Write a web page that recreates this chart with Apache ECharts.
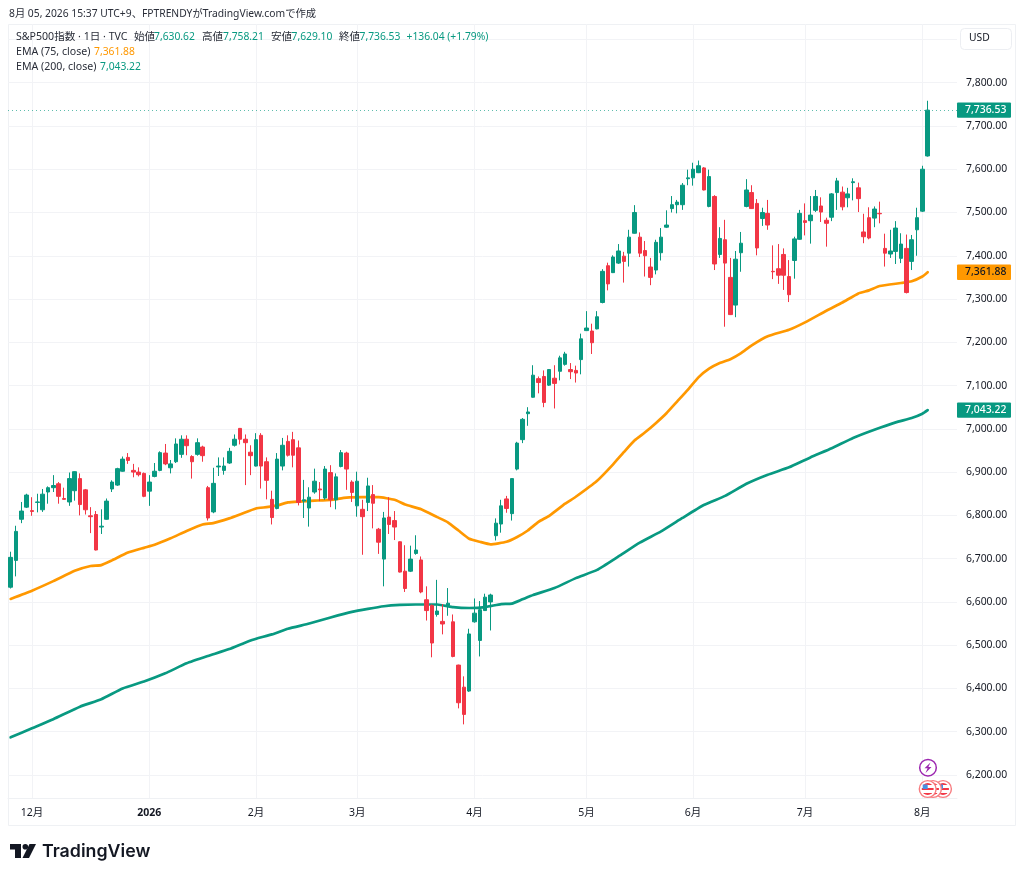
<!DOCTYPE html>
<html lang="ja">
<head>
<meta charset="utf-8">
<title>S&amp;P500指数</title>
<script src="https://cdn.jsdelivr.net/npm/echarts@6/dist/echarts.min.js"></script>
<style>html,body{margin:0;padding:0;background:#fff}#c{width:1024px;height:878px}</style>
</head>
<body>
<div id="c"></div>
<script>
const opens = [6634,6696,6791,6819,6811,6830,6813,6854,6864,6873,6839,6831,6857,6885,6859,6799,6802,6773,6791,6861,6870,6902,6934,6904,6900,6897,6856,6890,6904,6944,6910,6924,6941,6976,6936,6941,6958,6864,6808,6912,6904,6921,6962,7001,6976,6946,6914,6985,6924,6837,6816,6914,6971,6975,6956,6833,6817,6854,6861,6840,6899,6836,6913,6944,6877,6822,6814,6830,6848,6768,6699,6796,6788,6739,6671,6671,6712,6697,6605,6592,6571,6555,6592,6554,6454,6403,6394,6554,6511,6580,6600,6753,6780,6838,6804,6907,6975,7035,7073,7116,7121,7101,7117,7133,7149,7137,7135,7160,7227,7226,7231,7292,7377,7361,7383,7399,7406,7452,7443,7412,7374,7367,7407,7466,7509,7518,7518,7578,7580,7592,7603,7514,7537,7403,7437,7350,7286,7407,7514,7546,7521,7486,7498,7364,7370,7403,7352,7389,7438,7481,7481,7505,7515,7482,7489,7546,7547,7534,7569,7557,7455,7488,7487,7498,7417,7404,7410,7394,7417,7387,7460,7503,7630.62];
const highs = [6716,6776,6831,6850,6842,6850,6861,6867,6893,6877,6864,6899,6902,6897,6861,6819,6810,6814,6839,6881,6910,6936,6944,6919,6911,6899,6893,6921,6948,6965,6928,6978,6985,6985,6939,6978,6961,6868,6910,6934,6934,6956,6987,7002,6987,6962,6990,6990,6934,6857,6944,6979,6985,6993,6973,6882,6865,6908,6877,6914,6916,6897,6951,6947,6881,6901,6836,6887,6870,6771,6808,6842,6810,6740,6731,6730,6754,6705,6636,6594,6651,6595,6632,6571,6455,6428,6538,6608,6602,6619,6619,6793,6836,6845,6885,6970,7025,7050,7147,7121,7135,7138,7147,7169,7178,7152,7146,7220,7272,7243,7272,7369,7384,7401,7427,7409,7460,7517,7454,7434,7395,7437,7464,7505,7538,7529,7568,7599,7615,7620,7605,7599,7540,7466,7483,7395,7411,7455,7577,7563,7531,7511,7529,7424,7427,7417,7390,7444,7506,7521,7538,7552,7535,7488,7545,7580,7560,7557,7579,7569,7497,7512,7514,7525,7451,7460,7480,7452,7449,7448,7511,7608,7758.21];
const lows = [6631,6659,6782,6817,6799,6807,6808,6827,6854,6827,6836,6822,6834,6800,6802,6759,6719,6757,6790,6854,6868,6901,6919,6888,6890,6842,6822,6888,6902,6916,6897,6921,6933,6939,6885,6938,6924,6788,6805,6891,6894,6919,6959,6964,6870,6893,6913,6862,6837,6779,6814,6904,6936,6911,6823,6794,6774,6850,6833,6836,6819,6814,6911,6859,6831,6797,6709,6810,6770,6711,6636,6757,6743,6668,6623,6669,6709,6620,6557,6472,6566,6525,6568,6472,6354,6317,6392,6552,6474,6580,6534,6742,6760,6806,6788,6904,6967,7007,7072,7082,7050,7099,7047,7112,7146,7115,7107,7126,7226,7173,7230,7290,7320,7360,7381,7338,7375,7451,7397,7352,7332,7357,7389,7464,7500,7498,7506,7563,7562,7591,7551,7512,7367,7395,7236,7263,7258,7363,7512,7508,7401,7469,7460,7346,7335,7321,7293,7347,7437,7447,7428,7501,7478,7421,7480,7506,7505,7512,7528,7501,7429,7438,7466,7475,7375,7395,7381,7383,7313,7367,7400,7501,7629.10];
const closes = [6703,6763,6810,6847,6809,6831,6849,6864,6869,6844,6837,6885,6901,6825,6813,6797,6720,6775,6833,6877,6908,6930,6927,6900,6894,6844,6877,6902,6945,6919,6919,6965,6976,6961,6924,6968,6938,6794,6874,6914,6914,6948,6976,6976,6968,6938,6975,6914,6881,6795,6930,6962,6939,6939,6830,6836,6842,6879,6859,6907,6836,6889,6945,6907,6853,6879,6797,6868,6828,6738,6794,6779,6773,6669,6631,6699,6720,6623,6580,6505,6579,6549,6597,6474,6367,6340,6526,6574,6582,6611,6616,6782,6822,6816,6885,6967,7022,7039,7124,7107,7061,7137,7105,7164,7173,7132,7129,7208,7233,7199,7259,7364,7335,7397,7411,7387,7443,7500,7406,7400,7350,7431,7443,7471,7518,7524,7563,7580,7600,7608,7552,7583,7381,7440,7383,7264,7392,7429,7552,7509,7418,7500,7471,7363,7355,7355,7310,7439,7498,7477,7494,7537,7501,7475,7543,7573,7513,7543,7571,7532,7444,7441,7508,7497,7406,7411,7464,7427,7315,7437,7488,7600,7736.53];

const ema75Idx = [0,4,8,12,15,17,19,22,25,27,30,33,36,38,41,43,46,48,50,52,54,57,60,63,66,69,72,74,77,80,82,84,86,88,90,93,95,97,99,101,104,106,110,113,115,117,119,121,123,125,127,129,131,133,135,137,139,142,146,149,153,156,159,161,163,167,169,171,172];
const ema75Val = [6607,6626,6648,6672,6683,6685,6696,6714,6725,6732,6747,6764,6779,6782,6793,6802,6816,6819,6823,6830,6832,6834,6836,6841,6842,6842,6836,6825,6814,6796,6784,6765,6746,6739,6733,6739,6750,6765,6785,6799,6827,6843,6880,6918,6946,6973,6992,7013,7036,7063,7090,7119,7139,7152,7161,7175,7193,7214,7229,7246,7273,7292,7313,7320,7330,7337,7341,7352,7361.88];
const ema200Idx = [0,4,8,13,17,21,25,29,33,37,41,45,49,52,56,60,64,67,70,73,76,80,83,86,89,92,94,96,98,102,106,110,114,118,122,126,130,134,138,142,146,150,154,158,162,166,169,171,172];
const ema200Val = [6287,6308,6329,6358,6375,6400,6416,6435,6458,6475,6491,6511,6525,6538,6550,6564,6577,6584,6590,6593,6594,6594,6588,6586,6588,6595,6596,6606,6616,6632,6655,6674,6705,6737,6763,6794,6824,6845,6873,6894,6911,6934,6955,6979,6998,7015,7025,7035,7043.22];

const monthIdx = [4,26,46,65,87,108,128,149,171];
const monthLabels = ['12月','2026','2月','3月','4月','5月','6月','7月','8月'];
const slotCount = 178;
const priceMin = 6200, priceMax = 7900, priceStep = 100;

const titleText = '8月 05, 2026 15:37 UTC+9、FPTRENDYがTradingView.comで作成';
const symbolText = 'S&P500指数 · 1日 · TVC';
const lastOHLC = {o:'7,630.62',h:'7,758.21',l:'7,629.10',c:'7,736.53',chg:'+136.04 (+1.79%)'};
const LAST = 7736.53, EMA75 = 7361.88, EMA200 = 7043.22;

const UP = '#089981', DOWN = '#F23645', ORANGE = '#FF9800', INK = '#131722', GRID = '#f2f3f6';
const FONT = '"Noto Sans","Noto Sans CJK JP",sans-serif';
const fmt = v => v.toLocaleString('en-US',{minimumFractionDigits:2,maximumFractionDigits:2});

const categories = Array.from({length:slotCount},(_,i)=>{const k=monthIdx.indexOf(i);return k>=0?monthLabels[k]:'';});
const candleData = opens.map((o,i)=>[o,closes[i],lows[i],highs[i]]);
const isMonth = i => monthIdx.indexOf(i)>=0;

function tagLabel(v,bg,fg){
  return {show:true,position:'end',distance:0,formatter:fmt(v),color:fg,backgroundColor:bg,
    fontFamily:FONT,fontSize:10.4,fontWeight:500,padding:[2.5,7,2.5,8],width:39,align:'left',borderRadius:1};
}
const hiddenLine = {color:'rgba(0,0,0,0)',width:0};
function txt(x,y,text,color,extra){
  return {type:'text',left:x,top:y,silent:true,z:50,style:Object.assign({text:text,fill:color,font:'10.3px '+FONT},extra||{})};
}
const legendY = 32;
const CJKFONT = {font:'10.6px '+FONT};
const graphics = [
  {type:'rect',silent:true,z:0,shape:{x:8.5,y:24.5,width:1007,height:801},style:{fill:'none',stroke:'#eff1f4',lineWidth:1}},
  {type:'rect',silent:true,z:40,shape:{x:960.5,y:28.5,width:51,height:21,r:4},style:{fill:'#fff',stroke:'#eceef2',lineWidth:1}},
  txt(969,33,'USD',INK),
  txt(9,9,titleText,'#2a2e39'),
  txt(16,legendY,symbolText,'#2a2e39',CJKFONT),
  txt(134,legendY,'始値','#2a2e39',CJKFONT), txt(154,legendY,lastOHLC.o,UP),
  txt(202,legendY,'高値','#2a2e39',CJKFONT), txt(223,legendY,lastOHLC.h,UP),
  txt(271,legendY,'安値','#2a2e39',CJKFONT), txt(291.5,legendY,lastOHLC.l,UP),
  txt(339,legendY,'終値','#2a2e39',CJKFONT), txt(359.5,legendY,lastOHLC.c,UP),
  txt(406.5,legendY,lastOHLC.chg,UP),
  txt(16,legendY+15,'EMA (75, close)','#2a2e39',CJKFONT), txt(94,legendY+15,fmt(EMA75),ORANGE),
  txt(16,legendY+30,'EMA (200, close)','#2a2e39',CJKFONT), txt(100,legendY+30,fmt(EMA200),UP),
  // event badges near the last month mark
  {type:'circle',silent:true,z:45,shape:{cx:928,cy:767.7,r:8.3},style:{fill:'#fff',stroke:'#9c27b0',lineWidth:1.5}},
  {type:'polygon',silent:true,z:46,shape:{points:[[930.5,762.5],[924.5,768.3],[927.6,768.3],[925.5,773],[931.5,766.9],[928.4,766.9]]},style:{fill:'#9c27b0'}},
  ...[943,933,927.7].map((cx,k)=>({type:'group',silent:true,z:45,children:[
    {type:'circle',z:45+k,shape:{cx:cx,cy:789,r:8.4},style:{fill:'#fff',stroke:'#f77c80',lineWidth:1.4}},
    {type:'circle',z:45+k,shape:{cx:cx,cy:789,r:6},style:{fill:{type:'linear',x:0,y:0,x2:0,y2:1,colorStops:[
      {offset:0,color:'#f23645'},{offset:.2,color:'#f23645'},{offset:.2,color:'#fff'},{offset:.4,color:'#fff'},
      {offset:.4,color:'#f23645'},{offset:.6,color:'#f23645'},{offset:.6,color:'#fff'},{offset:.8,color:'#fff'},
      {offset:.8,color:'#f23645'},{offset:1,color:'#f23645'}]}}},
    {type:'rect',z:45+k,shape:{x:cx-5,y:784.5,width:5,height:4.5},style:{fill:'#4a90e2'}}
  ]})),
  // TradingView wordmark
  {type:'polygon',silent:true,z:50,shape:{points:[[10,844],[21,844],[21,858],[15,858],[15,849.5],[10,849.5]]},style:{fill:INK}},
  {type:'circle',silent:true,z:50,shape:{cx:25.3,cy:846.8,r:2.8},style:{fill:INK}},
  {type:'polygon',silent:true,z:50,shape:{points:[[29.5,844],[36,844],[29,858],[22.5,858]]},style:{fill:INK}},
  {type:'text',silent:true,z:50,left:42,top:843,style:{text:'TradingView',fill:INK,font:'600 17.8px Inter,"Noto Sans",sans-serif'}}
];

const chart = echarts.init(document.getElementById('c'),null,{renderer:'canvas'});
chart.setOption({
  animation:false,
  backgroundColor:'#fff',
  textStyle:{fontFamily:FONT},
  graphic:graphics,
  grid:[
    // full-height pane: vertical month lines and the time scale
    {left:8,width:949,top:24,height:774},
    // price pane spanning 7,900 to 6,200
    {left:8,width:949,top:39.4,height:735.6}
  ],
  xAxis:[
    {gridIndex:0,type:'category',data:categories,boundaryGap:true,
      axisLine:{show:true,lineStyle:{color:'#eff1f4'}},
      axisTick:{show:false},
      axisLabel:{interval:(i)=>isMonth(i),margin:10,color:INK,fontFamily:FONT,fontSize:10.5,hideOverlap:false,
        formatter:v=>v==='2026'?'{b|2026}':v,rich:{b:{fontWeight:700,fontSize:10.5,color:INK,fontFamily:FONT}}},
      splitLine:{show:true,alignWithLabel:true,interval:(i)=>isMonth(i),lineStyle:{color:GRID,width:1}}},
    {gridIndex:1,type:'category',data:categories,boundaryGap:true,
      axisLine:{show:false},axisTick:{show:false},axisLabel:{show:false},splitLine:{show:false}}
  ],
  yAxis:[
    {gridIndex:0,type:'value',min:0,max:1,show:false,splitLine:{show:false}},
    {gridIndex:1,type:'value',position:'right',min:priceMin,max:priceMax,interval:priceStep,
      axisLine:{show:false},axisTick:{show:false},
      axisLabel:{margin:9,color:INK,fontFamily:FONT,fontSize:10.4,showMaxLabel:false,padding:[2,0,0,0],formatter:v=>fmt(v)},
      splitLine:{show:true,lineStyle:{color:GRID,width:1}}}
  ],
  series:[
    {name:'EMA 200',type:'line',xAxisIndex:1,yAxisIndex:1,data:ema200Idx.map((x,k)=>[x,ema200Val[k]]),showSymbol:false,smooth:0.15,z:2,silent:true,
      lineStyle:{color:UP,width:2.7,cap:'round',join:'round'}},
    {name:'EMA 75',type:'line',xAxisIndex:1,yAxisIndex:1,data:ema75Idx.map((x,k)=>[x,ema75Val[k]]),showSymbol:false,smooth:0.15,z:2,silent:true,
      lineStyle:{color:ORANGE,width:2.7,cap:'round',join:'round'}},
    {name:'S&P500',type:'candlestick',xAxisIndex:1,yAxisIndex:1,data:candleData,barWidth:4,z:3,silent:true,
      itemStyle:{color:UP,color0:DOWN,borderColor:UP,borderColor0:DOWN,borderColorDoji:UP,borderWidth:1},
      markLine:{silent:true,symbol:'none',animation:false,precision:2,z:10,
        data:[
          {yAxis:LAST,lineStyle:{type:[1,3],color:'rgba(8,153,129,.65)',width:1},label:tagLabel(LAST,UP,'#fff')},
          {yAxis:EMA75,lineStyle:hiddenLine,label:tagLabel(EMA75,ORANGE,INK)},
          {yAxis:EMA200,lineStyle:hiddenLine,label:tagLabel(EMA200,UP,'#fff')}
        ]}}
  ]
});
</script>
</body>
</html>
